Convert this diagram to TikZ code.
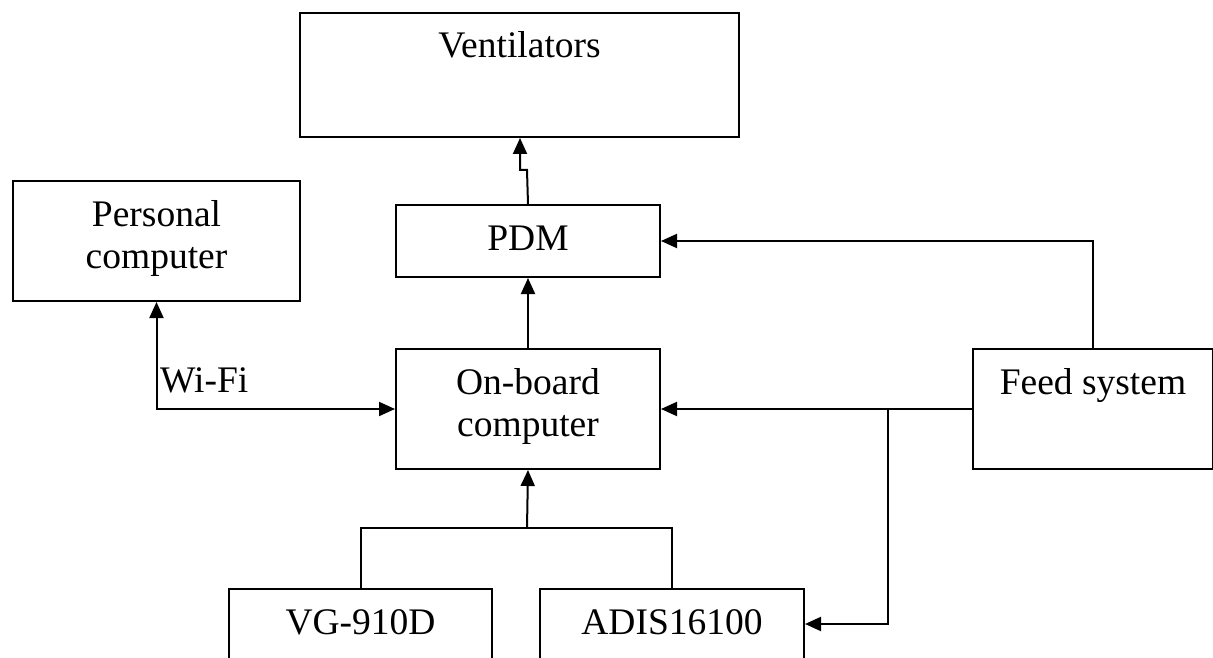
\documentclass[tikz,border=0pt]{standalone}
\usepackage{fontspec}
\setmainfont{Liberation Serif}
\usetikzlibrary{arrows.meta,calc}
\tikzset{
  blk/.style={draw, line width=2pt, rectangle, anchor=north west, align=center,
    inner xsep=0pt, inner ysep=0pt, text height=45pt,
    font=\fontsize{37.5}{42.5}\selectfont},
  twoline/.style={text height=87.5pt, text depth=32.5pt},
  conn/.style={line width=2pt},
  arr/.style={conn, -{Triangle[length=16pt 0, width=14pt 0]}},
  arrboth/.style={conn, {Triangle[length=16pt 0, width=14pt 0]}-{Triangle[length=16pt 0, width=14pt 0]}},
  lbl/.style={font=\fontsize{37.5}{42.5}\selectfont, inner sep=0pt}
}
\begin{document}
\begin{tikzpicture}[x=1pt,y=-1pt]
\clip (0,0) rectangle (1213,658);
\fill[white] (0,0) rectangle (1213,658);
\node[blk, minimum width=439pt, minimum height=124pt, text depth=79pt] (vent) at (299,12) {Ventilators};
\node[blk, twoline, minimum width=287pt, minimum height=120pt] (pc) at (12,180) {Personal\\computer};
\node[blk, minimum width=264pt, minimum height=72pt, text depth=27pt] (pdm) at (395,204) {PDM};
\node[blk, twoline, minimum width=264pt, minimum height=120pt] (obc) at (395,348) {On-board\\computer};
\node[blk, minimum width=240pt, minimum height=120pt, text depth=75pt] (feed) at (972,348) {Feed system};
\node[blk, minimum width=263pt, minimum height=120pt, text depth=75pt] (vg) at (228,588) {VG-910D};
\node[blk, minimum width=264pt, minimum height=120pt, text depth=75pt] (adis) at (539,588) {ADIS16100};
\node[lbl, anchor=base west] (wifi) at (160,392) {Wi-Fi};
\coordinate (j1) at (527,170);
\coordinate (j2) at (520,170);
\coordinate (b1) at (888,408);
\coordinate (m) at (527,528);
\draw[arr] (pdm.north) -- (j1) -- (j2) -- (j2 |- vent.south);
\draw[arr] (obc.north) -- (pdm.south);
\draw[arr] (feed.north) |- (pdm.east);
\draw[arr] (feed.west) -- (obc.east);
\draw[arr] (b1) |- ($(adis.north east)+(0,36)$);
\draw[arrboth] (pc.south) |- (obc.west);
\draw[conn] (vg.north) |- (m) -| (adis.north);
\draw[arr] (m) -- (obc.south);
\end{tikzpicture}
\end{document}
